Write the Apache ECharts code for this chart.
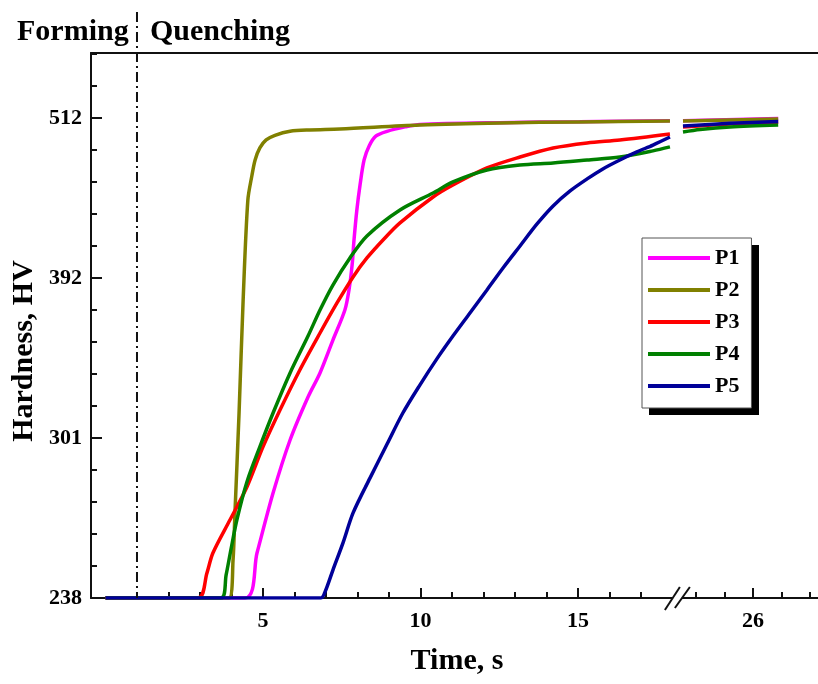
<!DOCTYPE html>
<html>
<head>
<meta charset="UTF-8">
<title>Hardness vs time</title>
<script src="https://cdn.jsdelivr.net/npm/echarts@6/dist/echarts.min.js"></script>
<style>
  html, body { margin: 0; padding: 0; background: #fff; }
  #chart { width: 818px; height: 684px; }
</style>
</head>
<body>
<div id="chart"></div>
<script>
// hardness ticks sit at equal spacing on the original axis
var hvTicks = [238, 301, 392, 512];
var timeLabels = [5, 10, 15, 26];
var minorTimes = [1, 2, 3, 4, 6, 7, 8, 9, 11, 12, 13, 14, 16, 17, 24, 25, 27, 28];

var seriesNames = ['P1', 'P2', 'P3', 'P4', 'P5'];
var seriesColors = ['#ff00ff', '#808000', '#ff0000', '#008000', '#000099'];

// null marks the axis break
var timeP1 = [0, 4.43, 4.81, 5.32, 5.86, 6.43, 6.81, 7.22, 7.60, 7.73, 7.83, 7.89, 7.98, 8.08, 8.21, 8.37, 8.59, 8.94, 9.51, 9.98, 12.52, 15.05, 17.92, null, 23.54, 26.88];
var hvP1 = [238, 238, 255.7, 279.3, 300.2, 324.3, 338, 356.7, 373.8, 385.2, 401.8, 420.5, 443, 461.6, 480.5, 491, 498.5, 502, 505.3, 507.1, 508.5, 509.2, 510, null, 510, 511.6];

var timeP2 = [0, 3.92, 4.05, 4.11, 4.24, 4.37, 4.52, 4.65, 4.75, 4.90, 5.10, 5.38, 5.86, 6.49, 7.44, 9.98, 12.52, 15.05, 17.92, null, 23.54, 26.88];
var hvP2 = [238, 238, 253, 271.5, 315, 379.5, 450.5, 469, 480.5, 489.5, 495.5, 499, 502, 503, 503.7, 506.7, 508.3, 509, 509.7, null, 509.7, 511.3];

var timeP3 = [0, 2.94, 3.22, 3.41, 3.95, 4.49, 5.0, 5.54, 6.17, 6.81, 7.35, 7.86, 8.30, 8.87, 9.35, 10.40, 11.03, 12.11, 13.16, 14.21, 15.29, 16.33, 17.92, null, 23.54, 25.19, 26.88];
var hvP3 = [238, 238, 247.8, 255.7, 268.7, 281.7, 297.5, 316.9, 339.7, 360.7, 377.8, 392.8, 407, 422, 433.3, 452.7, 461.7, 474.5, 482.7, 489.5, 493.3, 495.5, 500, null, 505.3, 507.5, 508.7];

var timeP4 = [0, 3.67, 3.83, 3.98, 4.17, 4.49, 4.90, 5.32, 5.86, 6.43, 6.81, 7.22, 7.76, 8.30, 9.35, 10.40, 11.03, 12.11, 13.16, 14.21, 15.29, 16.33, 17.38, 17.92, null, 23.54, 24.14, 25.19, 26.88];
var hvP4 = [238, 238, 247.1, 256.9, 268.7, 283.7, 297.5, 315.2, 338, 359, 373.8, 388, 407, 423.5, 443, 455.7, 464, 473, 476.7, 478.3, 480.5, 482.7, 487.3, 490.3, null, 501.5, 503.4, 505.3, 506.8];

var timeP5 = [0, 6.84, 6.97, 7.22, 7.54, 7.86, 8.40, 8.94, 9.44, 9.98, 10.52, 11.03, 11.57, 12.11, 12.62, 13.16, 13.70, 14.21, 14.75, 15.29, 15.79, 16.33, 16.87, 17.38, 17.92, null, 23.54, 25.19, 26.88];
var hvP5 = [238, 238, 240.4, 249, 259.7, 271.5, 285.3, 298.6, 315.2, 331.1, 346, 359, 372.1, 385.2, 399.5, 416, 432.5, 446, 457.3, 466.3, 473.8, 480.5, 486.5, 491.7, 497.7, null, 506, 508, 509.4];

var quenchStart = 1;   // dash-dot line, s
var breakPos = 18.14;  // where the time axis is cut

var serif = '"Liberation Serif", "Times New Roman", serif';

// piecewise map of hardness onto the evenly spaced tick positions
function hvPos(v) {
    for (var i = 0; i < hvTicks.length - 2; i++) {
        if (v <= hvTicks[i + 1]) return i + (v - hvTicks[i]) / (hvTicks[i + 1] - hvTicks[i]);
    }
    var n = hvTicks.length - 1;
    return n - 1 + (v - hvTicks[n - 1]) / (hvTicks[n] - hvTicks[n - 1]);
}

// after the break the time axis is shifted and slightly compressed
function timePos(t) {
    if (t < 20) return t;
    return 20.56 + (t - 26) * 0.905;
}

function pairs(ts, vs) {
    return ts.map(function (t, i) {
        if (t === null) return ['-', '-'];
        return [timePos(t), hvPos(vs[i])];
    });
}

var allTimes = [timeP1, timeP2, timeP3, timeP4, timeP5];
var allHv = [hvP1, hvP2, hvP3, hvP4, hvP5];

var yMinor = [];
for (var k = 1; k <= 17; k++) {
    if (k % 5 !== 0) yMinor.push(k / 5);
}

var chart = echarts.init(document.getElementById('chart'));

var axisLine = { show: true, onZero: false, lineStyle: { color: '#111', width: 2 } };
var labelFont = { color: '#000', fontFamily: serif, fontWeight: 'bold', fontSize: 22 };

var option = {
    animation: false,
    backgroundColor: '#fff',
    grid: { left: 91, right: 0, top: 53, bottom: 86, containLabel: false },
    xAxis: [
        {
            type: 'value', min: -0.46, max: 22.62, position: 'bottom',
            axisLine: axisLine,
            axisTick: { show: true, inside: true, length: 10, customValues: timeLabels.map(timePos),
                lineStyle: { color: '#111', width: 2 } },
            axisLabel: Object.assign({ margin: 12, customValues: timeLabels.map(timePos),
                formatter: function (v) {
                    for (var i = 0; i < timeLabels.length; i++) {
                        if (Math.abs(timePos(timeLabels[i]) - v) < 0.01) return String(timeLabels[i]);
                    }
                    return '';
                } }, labelFont),
            splitLine: { show: false }
        },
        {
            type: 'value', min: -0.46, max: 22.62, position: 'bottom',
            axisLine: { show: false },
            axisTick: { show: true, inside: true, length: 6, customValues: minorTimes.map(timePos),
                lineStyle: { color: '#111', width: 2 } },
            axisLabel: { show: false },
            splitLine: { show: false }
        },
        {
            type: 'value', min: -0.46, max: 22.62, position: 'top',
            axisLine: axisLine,
            axisTick: { show: false }, axisLabel: { show: false }, splitLine: { show: false }
        }
    ],
    yAxis: [
        {
            type: 'value', min: 0, max: 3.406, position: 'left',
            axisLine: axisLine,
            axisTick: { show: true, inside: true, length: 11, customValues: [0, 1, 2, 3],
                lineStyle: { color: '#111', width: 2 } },
            axisLabel: Object.assign({ margin: 9, customValues: [0, 1, 2, 3],
                formatter: function (v) { return String(hvTicks[Math.round(v)]); } }, labelFont),
            splitLine: { show: false }
        },
        {
            type: 'value', min: 0, max: 3.406, position: 'left',
            axisLine: { show: false, onZero: false },
            axisTick: { show: true, inside: true, length: 6, customValues: yMinor,
                lineStyle: { color: '#111', width: 2 } },
            axisLabel: { show: false },
            splitLine: { show: false }
        }
    ],
    legend: {
        orient: 'vertical', left: 642, top: 238, z: 10,
        data: seriesNames.map(function (n) { return { name: n, icon: 'rect' }; }),
        itemWidth: 62, itemHeight: 4, itemGap: 10,
        padding: [9, 12, 11, 6],
        backgroundColor: '#fff', borderColor: '#555', borderWidth: 1,
        textStyle: { color: '#000', fontFamily: serif, fontWeight: 'bold', fontSize: 22, lineHeight: 20 }
    },
    series: seriesNames.map(function (name, i) {
        return {
            name: name, type: 'line', xAxisIndex: 0, yAxisIndex: 0,
            data: pairs(allTimes[i], allHv[i]),
            showSymbol: false, symbol: 'none',
            smooth: 0.3, connectNulls: false,
            color: seriesColors[i],
            itemStyle: { color: seriesColors[i] },
            lineStyle: { color: seriesColors[i], width: 3.5 }
        };
    })
};

chart.setOption(option);

// decorations that need pixel positions from the axes
var xq = chart.convertToPixel({ xAxisIndex: 0 }, quenchStart);
var xb = chart.convertToPixel({ xAxisIndex: 0 }, breakPos);
var yb = chart.convertToPixel({ yAxisIndex: 0 }, 0);

chart.setOption({
    graphic: [
        { type: 'line', shape: { x1: xq, y1: 12, x2: xq, y2: yb },
          style: { stroke: '#111', lineWidth: 2, lineDash: [10, 4, 2, 4] }, z: 50 },
        { type: 'rect', shape: { x: xb - 4, y: yb - 3, width: 9, height: 6 },
          style: { fill: '#fff' }, z: 50 },
        { type: 'line', shape: { x1: xb - 12, y1: yb + 12, x2: xb + 3, y2: yb - 11 },
          style: { stroke: '#111', lineWidth: 2 }, z: 51 },
        { type: 'line', shape: { x1: xb - 2, y1: yb + 10, x2: xb + 13, y2: yb - 11 },
          style: { stroke: '#111', lineWidth: 2 }, z: 51 },
        // legend drop shadow
        { type: 'rect', shape: { x: 649, y: 245, width: 110, height: 170 },
          style: { fill: '#000' }, z: 1 },
        { type: 'text', x: 17, y: 32,
          style: { text: 'Forming', font: 'bold 30px ' + serif, fill: '#000', textAlign: 'left', textVerticalAlign: 'middle' } },
        { type: 'text', x: 150, y: 32,
          style: { text: 'Quenching', font: 'bold 30px ' + serif, fill: '#000', textAlign: 'left', textVerticalAlign: 'middle' } },
        { type: 'text', x: 24, y: 351, rotation: Math.PI / 2,
          style: { text: 'Hardness, HV', font: 'bold 30px ' + serif, fill: '#000', textAlign: 'center', textVerticalAlign: 'middle' } },
        { type: 'text', x: 457, y: 661,
          style: { text: 'Time, s', font: 'bold 30px ' + serif, fill: '#000', textAlign: 'center', textVerticalAlign: 'middle' } }
    ]
});
</script>
</body>
</html>
